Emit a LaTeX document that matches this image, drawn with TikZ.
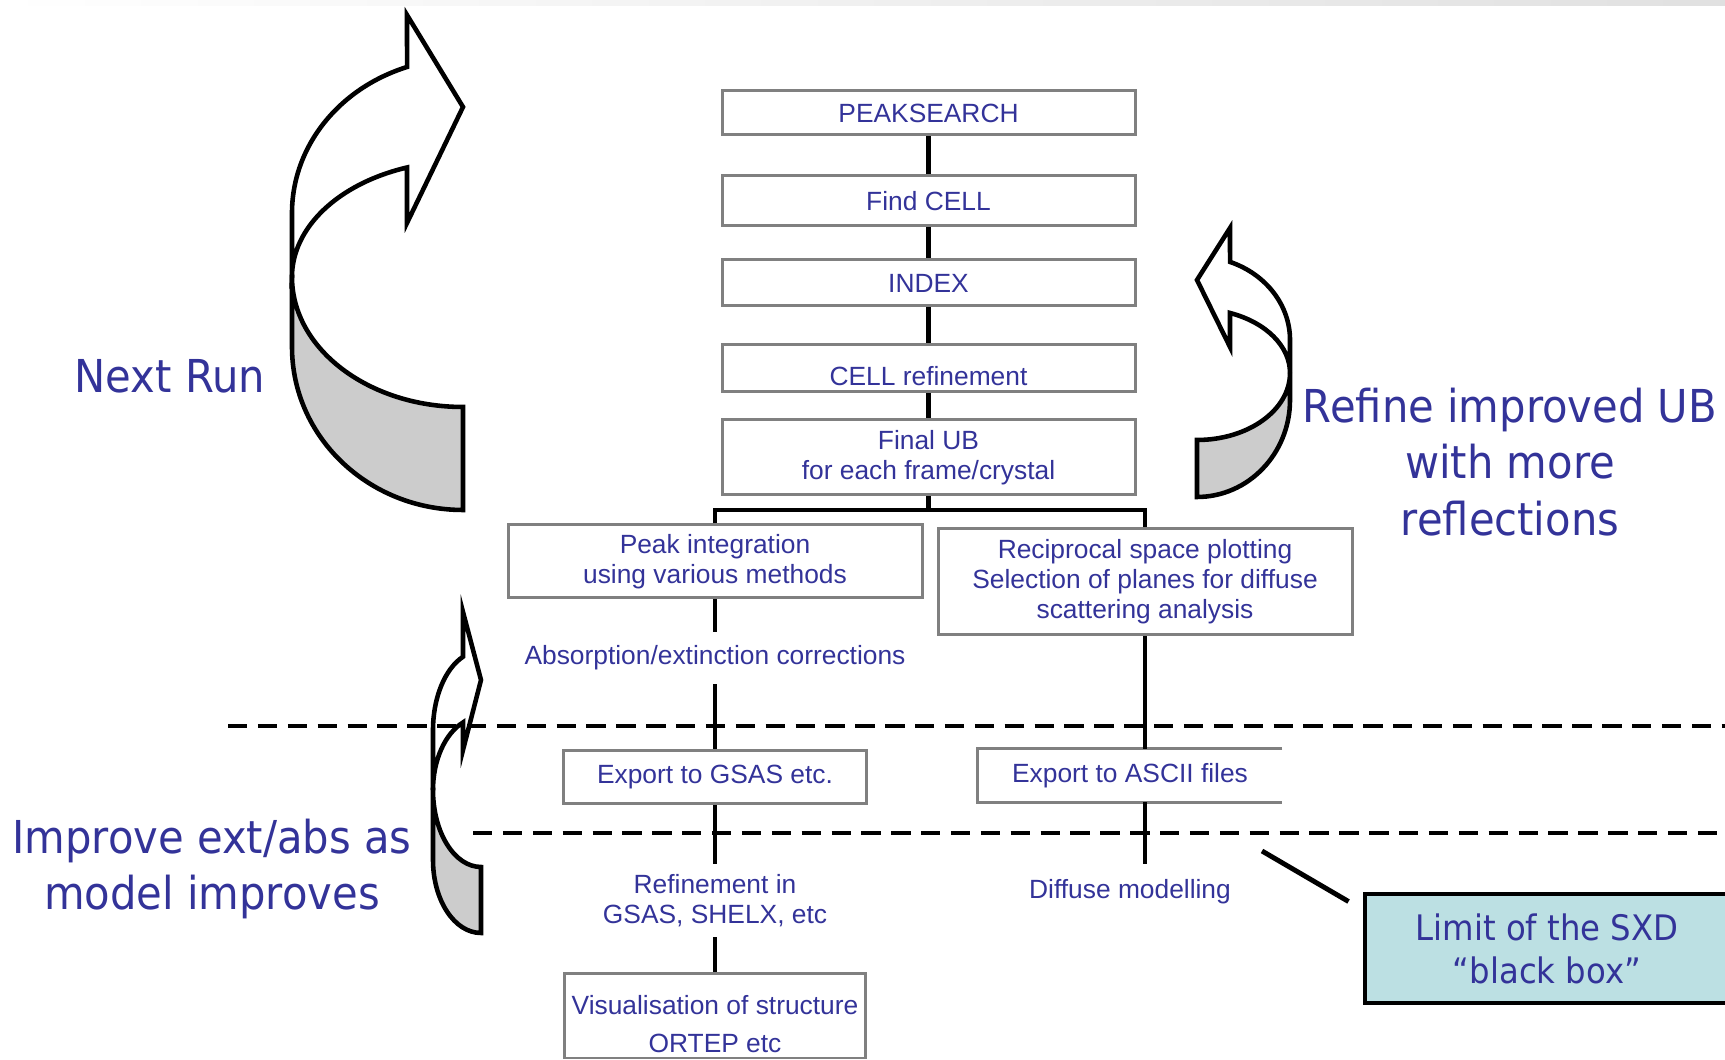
\documentclass[tikz,border=0pt]{standalone}
\usepackage{fontspec}
\usepackage{xcolor}
\usepackage{tikz}
\usetikzlibrary{calc}
\setmainfont{Liberation Sans}
\newfontfamily\notefamily[FakeStretch=0.92]{DejaVu Sans}
\definecolor{txtblue}{HTML}{333399}
\definecolor{boxdraw}{HTML}{808080}
\definecolor{bandfill}{HTML}{CCCCCC}
\definecolor{limitfill}{HTML}{BCE0E3}
\tikzset{
  blk/.style={rectangle, draw=boxdraw, line width=1.7pt, fill=white, align=center, text=txtblue, font=\fontsize{15}{17}\selectfont, inner sep=2pt},
  stage/.style={blk, minimum width=8.26cm},
  lab/.style={rectangle, align=center, text=txtblue, font=\fontsize{15}{17}\selectfont, inner sep=0pt},
  note/.style={align=center, text=txtblue, font=\notefamily\fontsize{25.8}{32}\selectfont},
  limitbox/.style={rectangle, draw=black, line width=2.8pt, fill=limitfill, align=center, text=txtblue, font=\notefamily\fontsize{20}{24.4}\selectfont, minimum width=7.28cm, minimum height=2.18cm},
  link/.style={line width=2.3pt, draw=black},
  cutline/.style={line width=2.6pt, draw=black, dash pattern=on 11pt off 6pt},
  pointer/.style={line width=2.8pt, draw=black},
  bandtop/.style={draw=black, line width=2.6pt, fill=white, line join=miter},
  bandback/.style={bandtop, fill=bandfill},
}
\begin{document}
\begin{tikzpicture}
  \useasboundingbox (0,0) rectangle (34.5,21.2);
  \shade[left color=white, right color=black!12] (0,21.08) rectangle (34.5,21.2);

  \node[stage, minimum height=0.88cm] (peaksearch) at (18.57,18.94) {PEAKSEARCH};
  \node[stage, minimum height=1.0cm]  (findcell)   at (18.57,17.18) {Find CELL};
  \node[stage, minimum height=0.92cm] (index)      at (18.57,15.54) {INDEX};
  \node[stage, minimum height=0.94cm] (cellref)    at (18.57,13.83) {\raisebox{-0.15cm}[\height][\depth]{CELL refinement}};
  \node[stage, minimum height=1.5cm]  (finalub)    at (18.57,12.05) {Final UB\\for each frame/crystal};
  \draw[link] (peaksearch) -- (findcell) -- (index) -- (cellref) -- (finalub);

  \coordinate (split) at (18.57,11.0);
  \node[blk, minimum width=8.28cm, minimum height=1.46cm] (peak) at (14.3,9.97) {Peak integration\\using various methods};
  \node[blk, minimum width=8.28cm, minimum height=2.12cm] (recip) at (22.9,9.56) {Reciprocal space plotting\\Selection of planes for diffuse\\scattering analysis};
  \draw[link] (finalub) -- (split);
  \draw[link] (peak) |- (split) -| (recip);

  \node[lab, minimum height=1.04cm] (absorb) at (14.3,8.04) {Absorption/extinction corrections};
  \node[blk, minimum width=6.06cm, minimum height=1.06cm] (gsas) at (14.3,5.65) {Export to GSAS etc.};
  \node[lab, minimum height=1.46cm] (refine) at (14.3,3.19) {Refinement in\\GSAS, SHELX, etc};
  \node[blk, minimum width=6.02cm, minimum height=1.68cm, font=\fontsize{15}{21.6}\selectfont] (vis) at (14.3,0.88)
    {\raisebox{-0.2cm}[\height][\depth]{\begin{tabular}{@{}c@{}}Visualisation of structure\\ORTEP etc\end{tabular}}};
  \draw[link] (peak) -- (absorb) -- (gsas) -- (refine) -- (vis);

  \node[lab, minimum width=6.08cm, minimum height=1.06cm] (ascii) at (22.6,5.69) {Export to ASCII files};
  \draw[draw=boxdraw, line width=1.7pt] (ascii.north east) -- (ascii.north west) -- (ascii.south west) -- (ascii.south east);
  \node[lab, minimum height=1.12cm] (diffuse) at (22.6,3.36) {Diffuse modelling};
  \draw[link] (recip) -- (recip |- ascii.north);
  \draw[link] (ascii.south -| recip) -- (diffuse.north -| recip);

  % Next Run
  \draw[bandback] (5.84,15.66) -- (5.84,14.26) arc[start angle=180, end angle=270, x radius=3.42, y radius=3.26] -- (9.26,13.06) arc[start angle=270, end angle=180, x radius=3.42, y radius=2.6] -- cycle;
  \draw[bandtop] (5.84,15.66) -- (5.84,16.94) arc[start angle=180, end angle=109.1, x radius=3.42, y radius=3.09] -- (8.14,20.9) -- (9.26,19.06) -- (8.14,16.74) -- (8.14,17.85) arc[start angle=109.1, end angle=180, x radius=3.42, y radius=2.32] -- cycle;
  \node[note] (nextrun) at (3.4,13.68) {Next Run};

  % Refine improved UB
  \draw[bandback] (25.8,13.74) -- (25.8,13.2) arc[start angle=0, end angle=-90, x radius=1.86, y radius=1.94] -- (23.94,12.4) arc[start angle=-90, end angle=0, x radius=1.86, y radius=1.34] -- cycle;
  \draw[bandtop] (25.8,13.74) -- (25.8,14.4) arc[start angle=0, end angle=69.2, x radius=1.86, y radius=1.67] -- (24.6,16.64) -- (23.94,15.6) -- (24.6,14.26) -- (24.6,14.94) arc[start angle=69.2, end angle=0, x radius=1.86, y radius=1.28] -- cycle;
  \node[note] (refineub) at (30.2,11.96) {Refine improved UB\\with more\\reflections};

  % Improve ext/abs
  \draw[bandback] (8.66,5.4) -- (8.66,4.0) arc[start angle=180, end angle=270, x radius=0.96, y radius=1.46] -- (9.62,3.86) arc[start angle=270, end angle=180, x radius=0.96, y radius=1.54] -- cycle;
  \draw[bandtop] (8.66,5.4) -- (8.66,6.6) arc[start angle=180, end angle=112, x radius=0.96, y radius=1.58] -- (9.26,8.96) -- (9.62,7.6) -- (9.26,6.2) -- (9.26,6.75) arc[start angle=112, end angle=180, x radius=0.96, y radius=1.46] -- cycle;
  \node[note] (improve) at (4.24,3.82) {Improve ext/abs as\\model improves};

  \draw[cutline] (4.56,6.68) -- (34.6,6.68);
  \draw[cutline] (9.46,4.54) -- (34.6,4.54);

  \node[limitbox] (limit) at (30.94,2.23) {Limit of the SXD\\“black box”};
  \coordinate (hint) at (25.24,4.18);
  \draw[pointer] (hint) -- ([xshift=-0.28cm,yshift=-0.2cm]limit.north west);
\end{tikzpicture}
\end{document}
